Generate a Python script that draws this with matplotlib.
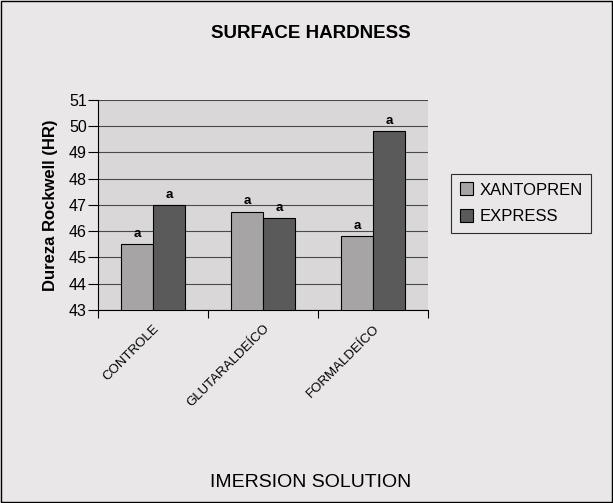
import matplotlib
matplotlib.use('Agg')
import matplotlib.pyplot as plt
import numpy as np

plt.rcParams['font.family'] = ['Liberation Sans', 'DejaVu Sans']

# Data
categories = ['CONTROLE', 'GLUTARALDEÍCO', 'FORMALDEÍCO']
xantopren = [45.5, 46.75, 45.8]
express = [47.0, 46.5, 49.8]
xantopren_labels = ['a', 'a', 'a']
express_labels = ['a', 'a', 'a']

fig = plt.figure(figsize=(6.13, 5.03), dpi=100, facecolor='#e9e7e7')
fig.patches.append(plt.Rectangle((0.002, 0.002), 0.996, 0.996, transform=fig.transFigure,
                                 fill=False, edgecolor='black', linewidth=1))
ax = fig.add_axes([0.16, 0.3837, 0.538, 0.4175])
ax.set_facecolor('#d9d7d7')

x = np.arange(len(categories))
width = 0.29
b1 = ax.bar(x - width / 2, xantopren, width, color='#a6a4a4', edgecolor='black',
            linewidth=0.8, label='XANTOPREN', zorder=3)
b2 = ax.bar(x + width / 2, express, width, color='#5a5a5a', edgecolor='black',
            linewidth=0.8, label='EXPRESS', zorder=3)

# significance letters above bars
for bars, labs in [(b1, xantopren_labels), (b2, express_labels)]:
    for bar, lab in zip(bars, labs):
        ax.annotate(lab, xy=(bar.get_x() + bar.get_width() / 2, bar.get_height()),
                    xytext=(0, 3), textcoords='offset points', ha='center', va='bottom',
                    fontsize=9.5, fontweight='bold')

ax.set_ylim(43, 51)
ax.set_xlim(-0.5, 2.5)
ax.set_yticks(range(43, 52))
ax.tick_params(axis='y', labelsize=11.5, length=7, width=0.8, pad=1)
ax.yaxis.grid(True, color='#4a4a4a', linewidth=0.8, zorder=1)
ax.set_axisbelow(True)

ax.set_xticks(x)
ax.set_xticklabels(categories, rotation=45, ha='right', rotation_mode='anchor', fontsize=9.5)
ax.tick_params(axis='x', length=0, pad=9)
ax.set_xticks([-0.5, 0.5, 1.5, 2.5], minor=True)
ax.tick_params(axis='x', which='minor', length=6, width=0.8)

for s in ['top', 'right']:
    ax.spines[s].set_visible(False)
ax.spines['left'].set_linewidth(0.8)
ax.spines['bottom'].set_linewidth(0.8)

ax.set_ylabel('Dureza Rockwell (HR)', fontsize=12, fontweight='bold', labelpad=8)

fig.text(0.507, 0.934, 'SURFACE HARDNESS', ha='center', va='center', fontsize=13.5,
         fontweight='bold')
fig.text(0.507, 0.041, 'IMERSION SOLUTION', ha='center', va='center', fontsize=14)

leg = fig.legend(loc='upper left', bbox_to_anchor=(0.736, 0.654), fontsize=12,
                 frameon=True, fancybox=False, edgecolor='black', facecolor='#e9e7e7',
                 handlelength=0.8, handleheight=0.8, borderpad=0.5, labelspacing=0.7,
                 handletextpad=0.4, borderaxespad=0)
leg.get_frame().set_linewidth(0.8)

plt.savefig('out.png', dpi=100, facecolor=fig.get_facecolor())
